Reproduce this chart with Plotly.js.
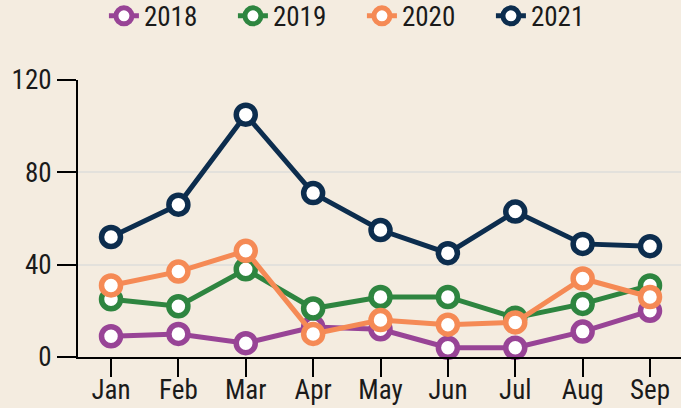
<!DOCTYPE html>
<html>
<head>
<meta charset="utf-8">
<script src="https://cdn.plot.ly/plotly-3.0.1.min.js"></script>
<style>html,body{margin:0;padding:0;background:#f4ece0;}#chart{width:681px;height:408px;}</style>
</head>
<body>
<div id="chart"></div>
<script>
const months = ["Jan","Feb","Mar","Apr","May","Jun","Jul","Aug","Sep"];
const years = ["2018","2019","2020","2021"];
const v2018 = [9, 10, 6, 13, 12, 4, 4, 11, 20];
const v2019 = [25, 22, 38, 21, 26, 26, 17, 23, 31];
const v2020 = [31, 37, 46, 10, 16, 14, 15, 34, 26];
const v2021 = [52, 66, 105, 71, 55, 45, 63, 49, 48];
const colors = ["#984496", "#2e8540", "#f58a55", "#0c2d4e"];
const series = [v2018, v2019, v2020, v2021];

const FONT = "Roboto Condensed, Roboto, sans-serif";
const traces = series.map((s, i) => ({
  type: "scatter", mode: "lines+markers", name: years[i],
  x: months, y: s,
  line: {color: colors[i], width: 5},
  marker: {size: 19, color: "#ffffff", line: {color: colors[i], width: 5.5}},
  cliponaxis: false
}));

const layout = {
  width: 681, height: 408,
  paper_bgcolor: "#f4ece0", plot_bgcolor: "#f4ece0",
  margin: {l: 78, r: 0, t: 80, b: 51, autoexpand: false},
  font: {family: FONT, size: 27, color: "#1a1a1a"},
  showlegend: true,
  legend: {orientation: "h", x: 0.043, xanchor: "left", y: 1.23, yanchor: "middle",
           entrywidth: 84, entrywidthmode: "pixels", bgcolor: "rgba(0,0,0,0)",
           font: {family: FONT, size: 27, color: "#1a1a1a"}},
  xaxis: {type: "category", range: [-0.49, 8.46], showgrid: false,
          showline: true, linecolor: "#000", linewidth: 2,
          ticks: "outside", ticklen: 18, tickwidth: 2, tickcolor: "#000",
          ticklabelstandoff: -10,
          tickfont: {family: FONT, size: 27, color: "#1a1a1a"}, zeroline: false},
  yaxis: {range: [0, 120], tickvals: [0, 40, 80, 120], showgrid: true,
          gridcolor: "#e3e1dc", gridwidth: 2,
          showline: true, linecolor: "#000", linewidth: 2,
          ticks: "outside", ticklen: 19, tickwidth: 2, tickcolor: "#000",
          tickfont: {family: FONT, size: 27, color: "#1a1a1a"}, zeroline: false}
};
Plotly.newPlot("chart", traces, layout, {displayModeBar: false, staticPlot: true});
</script>
</body>
</html>
